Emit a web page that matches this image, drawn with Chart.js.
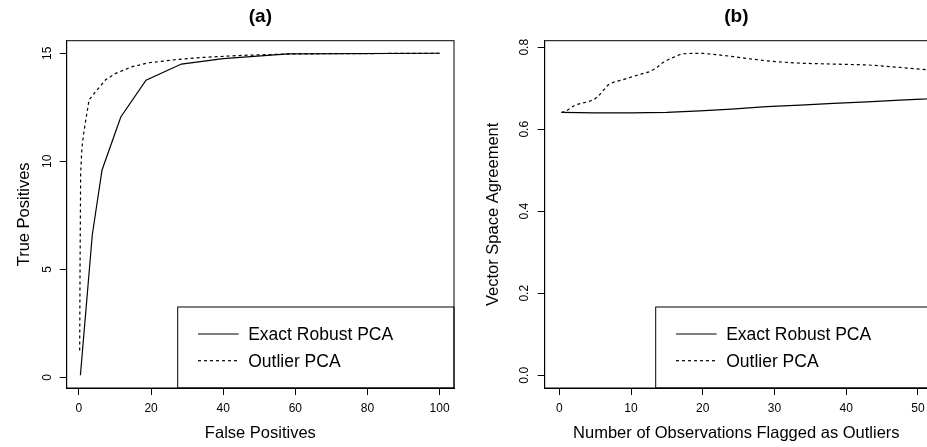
<!DOCTYPE html>
<html>
<head>
<meta charset="utf-8">
<script src="https://cdn.jsdelivr.net/npm/chart.js@4/dist/chart.umd.min.js"></script>
<style>
  body { margin: 0; width: 927px; height: 447px; overflow: hidden; background: #fff; }
  .panel { position: absolute; top: 0; height: 447px; overflow: hidden; }
</style>
</head>
<body>
<div class="panel" style="left:0;width:464px"><canvas id="chartA" width="464" height="447"></canvas></div>
<div class="panel" style="left:464px;width:463px"><canvas id="chartB" width="470" height="447"></canvas></div>
<script>
// panel (a): ROC style curve
const fpExact = [0.4, 3.7, 6.4, 11.6, 18.6, 28.4, 40, 58, 100];
const tpExact = [0.1, 6.6, 9.6, 12.05, 13.75, 14.5, 14.75, 14.97, 15];
const fpOutlier = [0.2, 0.3, 0.47, 0.8, 1.4, 2.8, 4.6, 7.4, 10.2, 14.8, 19.4, 27.8, 34.7, 45, 60, 100];
const tpOutlier = [1.25, 5, 9.44, 10.6, 11.4, 12.84, 13.22, 13.77, 14.07, 14.38, 14.56, 14.72, 14.81, 14.9, 14.97, 15];
const xTicksA = [0, 20, 40, 60, 80, 100];
const yTicksA = [0, 5, 10, 15];

// panel (b): vector space agreement
const nExact = [0.3, 5, 10, 15, 19.6, 24, 28.9, 33.6, 38.2, 42.9, 47.5, 51.2, 52];
const vsaExact = [0.641, 0.640, 0.640, 0.641, 0.645, 0.649, 0.655, 0.659, 0.663, 0.667, 0.671, 0.674, 0.675];
const nOutlier = [0.3, 1.0, 2.2, 3.0, 4.0, 4.8, 5.4, 6.2, 6.8, 7.6, 8.7, 10, 11.5, 12.5, 13.1, 13.7, 14.3, 15.2, 16.1, 17.1, 18.5, 20.1, 22, 24.3, 26.5, 28.9, 31, 33.6, 38.2, 42.9, 47.5, 51.2, 52];
const vsaOutlier = [0.641, 0.645, 0.659, 0.663, 0.667, 0.672, 0.680, 0.696, 0.708, 0.715, 0.720, 0.727, 0.735, 0.740, 0.745, 0.752, 0.761, 0.770, 0.777, 0.784, 0.785, 0.785, 0.782, 0.777, 0.772, 0.767, 0.764, 0.761, 0.759, 0.757, 0.751, 0.745, 0.743];
const xTicksB = [0, 10, 20, 30, 40, 50];
const yTicksB = [0, 0.2, 0.4, 0.6, 0.8];

const seriesNames = ['Exact Robust PCA', 'Outlier PCA'];
const FONT = '"Liberation Sans", Arial, Helvetica, sans-serif';

function pts(xs, ys) {
    return xs.map((x, i) => ({ x: x, y: ys[i] }));
}

// box round the plot + R style legend in the bottom right corner
const framePlugin = {
    id: 'frame',
    afterDraw(chart, args, opts) {
        const ctx = chart.ctx;
        const a = chart.chartArea;
        ctx.save();
        ctx.strokeStyle = '#000';
        ctx.lineWidth = 1;
        ctx.strokeRect(a.left, a.top, a.right - a.left, a.bottom - a.top);

        const lx = a.right - opts.legendWidth;
        const ly = a.bottom - opts.legendHeight;
        ctx.strokeRect(lx, ly, opts.legendWidth, opts.legendHeight);
        ctx.font = '17.5px ' + FONT;
        ctx.fillStyle = '#000';
        ctx.textBaseline = 'alphabetic';
        chart.data.datasets.forEach((ds, i) => {
            const y = ly + 27 + i * 26.7;
            ctx.beginPath();
            ctx.setLineDash(ds.borderDash || []);
            ctx.lineWidth = 1.2;
            ctx.moveTo(lx + 20.3, y);
            ctx.lineTo(lx + 61, y);
            ctx.stroke();
            ctx.setLineDash([]);
            ctx.fillText(ds.label, lx + 70.5, y + 6.4);
        });
        ctx.restore();
    }
};

function makeChart(id, cfg) {
    const ctx = document.getElementById(id).getContext('2d');
    return new Chart(ctx, {
        type: 'line',
        data: {
            datasets: [{
                label: seriesNames[0],
                data: cfg.solid,
                borderColor: '#000',
                borderWidth: 1.2,
                pointRadius: 0,
                tension: 0,
                fill: false
            }, {
                label: seriesNames[1],
                data: cfg.dashed,
                borderColor: '#000',
                borderWidth: 1.2,
                borderDash: [3, 3],
                pointRadius: 0,
                tension: 0,
                fill: false
            }]
        },
        options: {
            responsive: false,
            animation: false,
            events: [],
            layout: {
                padding: { left: 0, right: cfg.padRight, top: 0, bottom: 0 }
            },
            plugins: {
                legend: { display: false },
                tooltip: { enabled: false },
                title: {
                    display: true,
                    text: cfg.title,
                    fullSize: false,
                    color: '#000',
                    font: { family: FONT, size: 19, weight: 'bold' },
                    padding: { top: 5.3, bottom: 12.6 }
                },
                frame: { legendWidth: cfg.legendWidth, legendHeight: 81 }
            },
            scales: {
                x: {
                    type: 'linear',
                    min: cfg.xMin,
                    max: cfg.xMax,
                    afterBuildTicks: axis => { axis.ticks = cfg.xTicks.map(v => ({ value: v })); },
                    afterFit: axis => { axis.height = 59; },
                    grid: { drawOnChartArea: false, drawTicks: true, tickLength: 7, color: '#000' },
                    border: { display: true, color: '#000', width: 1 },
                    ticks: {
                        color: '#000',
                        padding: 6.8,
                        maxRotation: 0,
                        font: { family: FONT, size: 12 }
                    },
                    title: {
                        display: true,
                        text: cfg.xTitle,
                        color: '#000',
                        font: { family: FONT, size: 16.5 },
                        padding: { top: 0, bottom: 3.6 }
                    }
                },
                y: {
                    type: 'linear',
                    min: cfg.yMin,
                    max: cfg.yMax,
                    afterBuildTicks: axis => { axis.ticks = cfg.yTicks.map(v => ({ value: v })); },
                    afterFit: axis => { axis.width = cfg.yWidth; },
                    grid: { drawOnChartArea: false, drawTicks: true, tickLength: 7, color: '#000' },
                    border: { display: true, color: '#000', width: 1 },
                    ticks: {
                        color: '#000',
                        padding: 5,
                        minRotation: 90,
                        maxRotation: 90,
                        crossAlign: 'center',
                        font: { family: FONT, size: 12 },
                        callback: cfg.yFormat
                    },
                    title: {
                        display: true,
                        text: cfg.yTitle,
                        color: '#000',
                        font: { family: FONT, size: 16.5 },
                        padding: { top: cfg.yTitlePad, bottom: 0 }
                    }
                }
            }
        },
        plugins: [framePlugin]
    });
}

makeChart('chartA', {
    title: '(a)',
    solid: pts(fpExact, tpExact),
    dashed: pts(fpOutlier, tpOutlier),
    xMin: -3.4, xMax: 104,
    yMin: -0.49, yMax: 15.58,
    xTicks: xTicksA, yTicks: yTicksA,
    yFormat: v => String(v),
    xTitle: 'False Positives',
    yTitle: 'True Positives',
    yWidth: 66.7, yTitlePad: 15,
    padRight: 10,
    legendWidth: 276.3
});

makeChart('chartB', {
    title: '(b)',
    solid: pts(nExact, vsaExact),
    dashed: pts(nOutlier, vsaOutlier),
    xMin: -2.03, xMax: 51.4,
    yMin: -0.031, yMax: 0.816,
    xTicks: xTicksB, yTicks: yTicksB,
    yFormat: v => v.toFixed(1),
    xTitle: 'Number of Observations Flagged as Outliers',
    yTitle: 'Vector Space Agreement',
    yWidth: 80.7, yTitlePad: 20,
    padRight: 6,
    legendWidth: 272.3
});
</script>
</body>
</html>
